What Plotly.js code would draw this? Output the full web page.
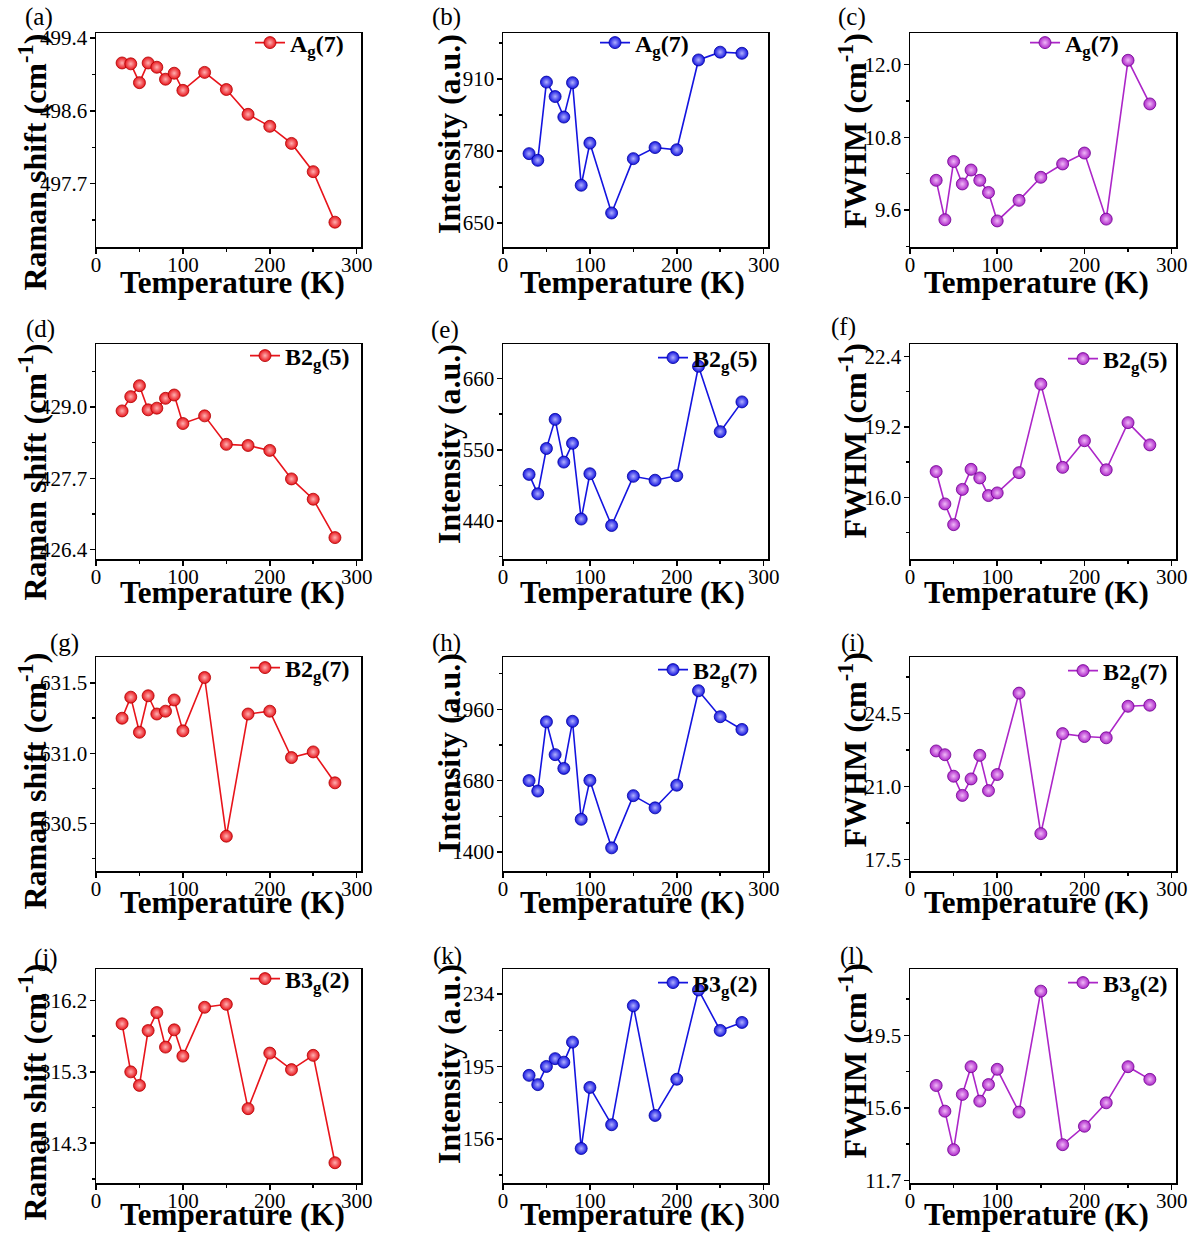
<!DOCTYPE html>
<html><head><meta charset="utf-8">
<script src="https://cdn.plot.ly/plotly-3.0.1.min.js"></script>
<style>html,body{margin:0;padding:0;background:#fff}</style>
</head><body><div id="chart" style="width:1198px;height:1243px"></div>
<script>
// ---------- data ----------
const temperature = [30, 40, 50, 60, 70, 80, 90, 100, 125, 150, 175, 200, 225, 250, 275];

const ramanAg7      = [499.11, 499.10, 498.88, 499.11, 499.06, 498.92, 498.99, 498.79, 499.00, 498.80, 498.51, 498.37, 498.17, 497.84, 497.25];
const intensityAg7  = [775, 763, 904, 878, 841, 903, 718, 794, 668, 766, 786, 782, 944, 958, 956];
const fwhmAg7       = [10.09, 9.44, 10.40, 10.03, 10.26, 10.09, 9.89, 9.42, 9.76, 10.14, 10.36, 10.54, 9.45, 12.07, 11.35];

const ramanB2g5     = [428.93, 429.19, 429.39, 428.95, 428.98, 429.16, 429.22, 428.70, 428.84, 428.32, 428.30, 428.21, 427.69, 427.32, 426.62];
const intensityB2g5 = [512, 482, 552, 597, 531, 560, 443, 513, 433, 509, 503, 510, 679, 578, 624];
const fwhmB2g5      = [17.17, 15.70, 14.76, 16.36, 17.27, 16.88, 16.08, 16.20, 17.12, 21.14, 17.36, 18.57, 17.25, 19.39, 18.38];

const ramanB2g7     = [631.25, 631.40, 631.15, 631.41, 631.28, 631.30, 631.38, 631.16, 631.54, 630.41, 631.28, 631.30, 630.97, 631.01, 630.79];
const intensityB2g7 = [1680, 1639, 1911, 1782, 1728, 1913, 1528, 1681, 1416, 1621, 1573, 1662, 2033, 1931, 1881];
const fwhmB2g7      = [22.70, 22.52, 21.49, 20.57, 21.36, 22.49, 20.80, 21.57, 25.47, 18.74, 23.53, 23.39, 23.33, 24.84, 24.89];

const ramanB3g2     = [315.89, 315.25, 315.07, 315.80, 316.04, 315.58, 315.81, 315.46, 316.11, 316.15, 314.76, 315.50, 315.28, 315.47, 314.04];
const intensityB3g2 = [190.2, 185.2, 195.0, 199.2, 197.3, 208.1, 150.8, 183.7, 163.6, 227.7, 168.6, 188.1, 236.2, 214.4, 218.7];
const fwhmB3g2      = [16.80, 15.42, 13.35, 16.32, 17.81, 15.96, 16.85, 17.67, 15.37, 21.87, 13.62, 14.61, 15.87, 17.81, 17.13];

const modeNames  = ['A<sub>g</sub>(7)', 'B2<sub>g</sub>(5)', 'B2<sub>g</sub>(7)', 'B3<sub>g</sub>(2)'];
const yTitles    = ['Raman shift (cm<sup>-1</sup>)', 'Intensity (a.u.)', 'FWHM (cm<sup>-1</sup>)'];
const xTitle     = 'Temperature (K)';
const panelLabels = ['(a)','(b)','(c)','(d)','(e)','(f)','(g)','(h)','(i)','(j)','(k)','(l)'];

const xTickVals = [0, 100, 200, 300];
const yTickVals = [
  [497.7, 498.55, 499.4], [650, 780, 910], [9.6, 10.8, 12.0],
  [426.4, 427.7, 429.0], [440, 550, 660], [16.0, 19.2, 22.4],
  [630.5, 631.0, 631.5], [1400, 1680, 1960], [17.5, 21.0, 24.5],
  [314.3, 315.25, 316.2], [156, 195, 234], [11.7, 15.6, 19.5]
];
const yTickText = [
  ['497.7', '498.6', '499.4'], ['650', '780', '910'], ['9.6', '10.8', '12.0'],
  ['426.4', '427.7', '429.0'], ['440', '550', '660'], ['16.0', '19.2', '22.4'],
  ['630.5', '631.0', '631.5'], ['1400', '1680', '1960'], ['17.5', '21.0', '24.5'],
  ['314.3', '315.3', '316.2'], ['156', '195', '234'], ['11.7', '15.6', '19.5']
];

// ---------- layout config ----------
const seriesGrid = [
  [ramanAg7, intensityAg7, fwhmAg7],
  [ramanB2g5, intensityB2g5, fwhmB2g5],
  [ramanB2g7, intensityB2g7, fwhmB2g7],
  [ramanB3g2, intensityB3g2, fwhmB3g2]
];
const yRanges = [
  [496.96, 499.46], [606.6, 992.6], [8.99, 12.52],
  [426.23, 430.15], [381.3, 713.4], [13.2, 22.96],
  [630.162, 631.686], [1325, 2165.5], [16.95, 27.2],
  [313.77, 316.62], [132.2, 247.5], [11.56, 23.06]
];
const colors = ['#e8141b', '#1414e0', '#ac26c8'];
const gradColors = ['#ffb0b0', '#b0b0ff', '#f0b8f8'];
const lineColors = ['#b00000', '#0000a0', '#700090'];

const W = 1198, H = 1243;
const colPx = [[96, 361], [503, 768], [910, 1176]];
const rowPx = [[33, 247], [344, 559], [657, 871], [969, 1183]];
const px = x => x / W;
const py = y => 1 - y / H;

const legendLeft = [[250, 595, 1025], [245, 653, 1063], [245, 653, 1063], [245, 653, 1063]];
const legendY = [[43, 43, 43], [356, 358, 359], [668, 670, 671], [979, 983, 983]];
const labelPos = [[39,17],[446,17],[852,17],[40,329],[445,330],[843,327],[64,643],[446,643],[853,643],[46,958],[447,956],[852,956]];
const yTitleX = [32, 449, 852];
const yTitleTop = [32, 342, 651, 962];
const xTitleX = [232, 632, 1036];
const xTitleY = [282, 592, 902, 1214];

const serif = 'Liberation Serif, Times New Roman, serif';
const traces = [];
const layout = {
  width: W, height: H,
  margin: {l: 0, r: 0, t: 0, b: 0},
  paper_bgcolor: '#fff', plot_bgcolor: '#fff',
  font: {family: serif, color: '#000'},
  annotations: []
};

for (let r = 0; r < 4; r++) {
  for (let c = 0; c < 3; c++) {
    const i = r * 3 + c;
    const n = i === 0 ? '' : String(i + 1);
    const legendId = 'legend' + n;
    traces.push({
      x: temperature, y: seriesGrid[r][c],
      xaxis: 'x' + n, yaxis: 'y' + n,
      type: 'scatter', mode: 'lines+markers',
      name: modeNames[r], legend: legendId, showlegend: true,
      line: {color: colors[c], width: 1.6},
      marker: {size: 12, color: colors[c], line: {color: lineColors[c], width: 0.8},
               gradient: {type: 'radial', color: gradColors[c]}}
    });
    const tickvals = yTickVals[i];
    const step = tickvals[1] - tickvals[0];
    layout['xaxis' + n] = {
      domain: [px(colPx[c][0]), px(colPx[c][1])],
      anchor: 'y' + n, range: [0, 305],
      tickmode: 'array', tickvals: xTickVals,
      ticks: 'outside', ticklen: 5, tickwidth: 1.5, tickcolor: '#000',
      ticklabelstandoff: -7,
      minor: {tickmode: 'linear', tick0: 0, dtick: 50, ticks: 'outside', ticklen: 3, tickwidth: 1.5, tickcolor: '#000'},
      showline: true, linecolor: '#000', linewidth: 1.5, mirror: true,
      showgrid: false, zeroline: false,
      tickfont: {family: serif, size: 21, color: '#000'}
    };
    layout['yaxis' + n] = {
      domain: [py(rowPx[r][1]), py(rowPx[r][0])],
      anchor: 'x' + n, range: yRanges[i],
      tickmode: 'array', tickvals: tickvals, ticktext: yTickText[i],
      ticks: 'outside', ticklen: 5, tickwidth: 1.5, tickcolor: '#000',
      ticklabelstandoff: -2,
      minor: {tickmode: 'linear', tick0: tickvals[0], dtick: step / 2, ticks: 'outside', ticklen: 3, tickwidth: 1.5, tickcolor: '#000'},
      showline: true, linecolor: '#000', linewidth: 1.5, mirror: true,
      showgrid: false, zeroline: false,
      tickfont: {family: serif, size: 21, color: '#000'}
    };
    layout[legendId] = {
      x: px(legendLeft[r][c]), xanchor: 'left',
      y: py(legendY[r][c]), yanchor: 'middle',
      bgcolor: 'rgba(0,0,0,0)', borderwidth: 0,
      font: {family: serif, size: 24, color: '#000', weight: 'bold'}
    };
    layout.annotations.push({
      text: panelLabels[i], xref: 'paper', yref: 'paper',
      x: px(labelPos[i][0]), y: py(labelPos[i][1]), xanchor: 'center', yanchor: 'middle',
      showarrow: false, font: {family: serif, size: 25, color: '#000'}
    });
    layout.annotations.push({
      text: yTitles[c], xref: 'paper', yref: 'paper', textangle: -90,
      x: px(yTitleX[c]), y: py(yTitleTop[r]), xanchor: 'center', yanchor: 'top',
      showarrow: false, font: {family: serif, size: 32, color: '#000', weight: 'bold'}
    });
    layout.annotations.push({
      text: xTitle, xref: 'paper', yref: 'paper',
      x: px(xTitleX[c]), y: py(xTitleY[r]), xanchor: 'center', yanchor: 'middle',
      showarrow: false, font: {family: serif, size: 31, color: '#000', weight: 'bold'}
    });
  }
}

Plotly.newPlot('chart', traces, layout, {displayModeBar: false, staticPlot: true});
</script>
</body></html>
